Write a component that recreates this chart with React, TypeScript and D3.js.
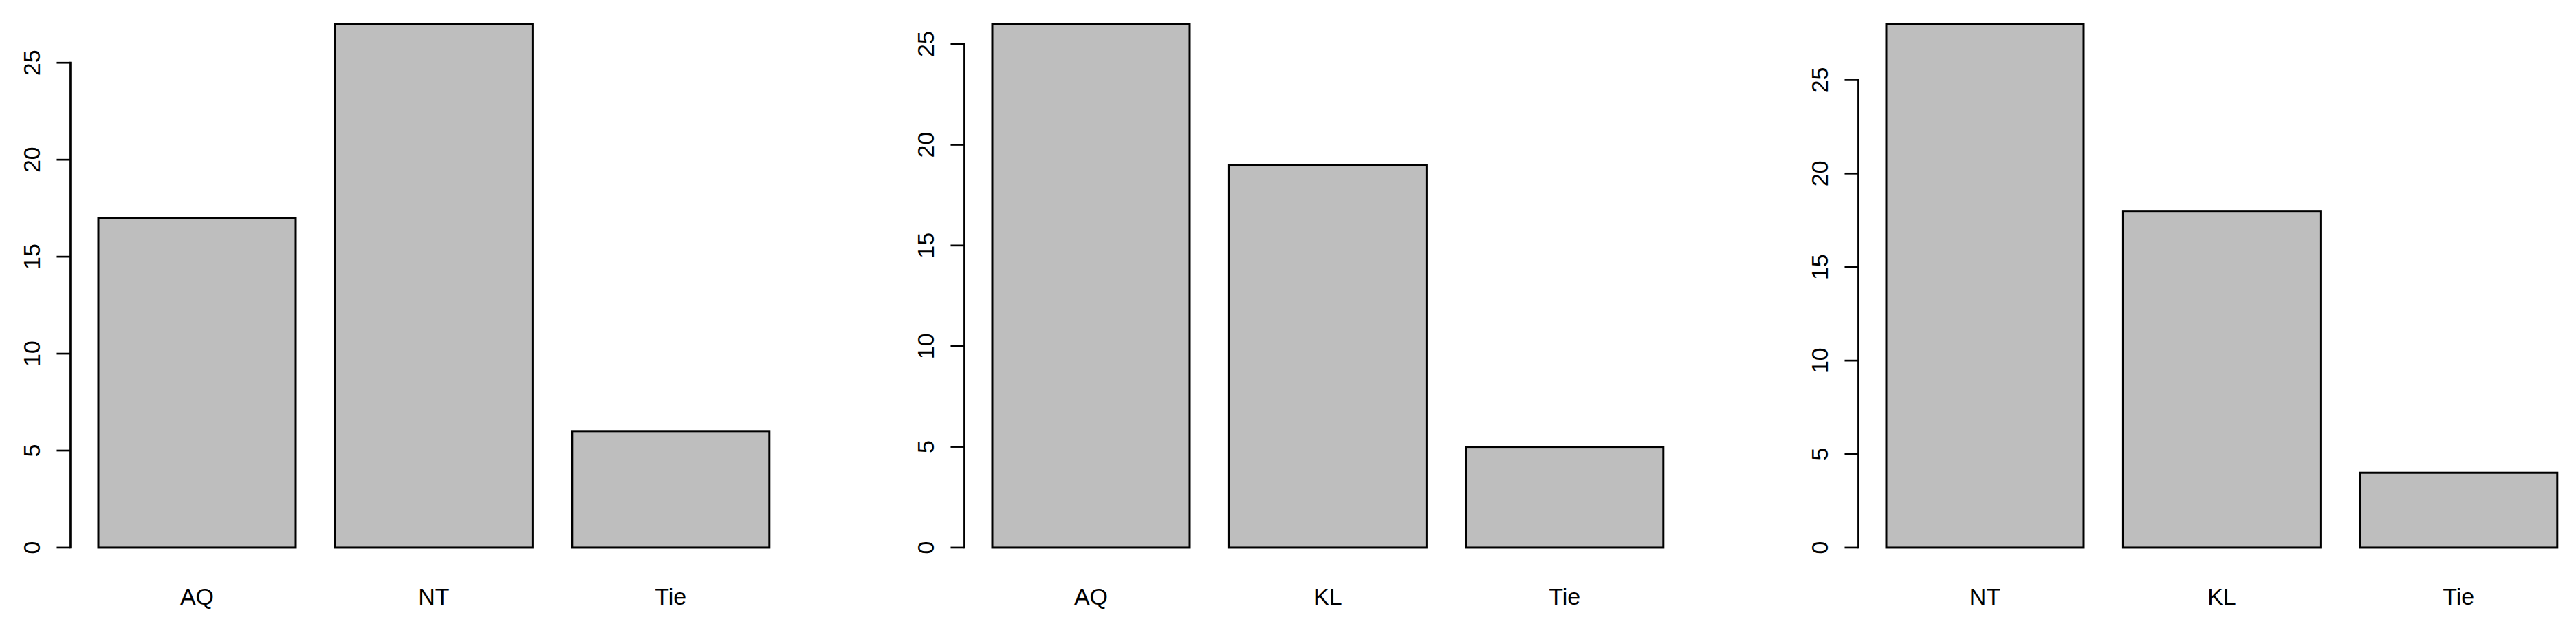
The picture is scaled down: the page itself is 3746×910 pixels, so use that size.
import React from "react"
import * as d3 from "d3"

// three bar charts, counts of wins per pairing
const categoriesA = ["AQ", "NT", "Tie"]
const valuesA = [17, 27, 6]

const categoriesB = ["AQ", "KL", "Tie"]
const valuesB = [26, 19, 5]

const categoriesC = ["NT", "KL", "Tie"]
const valuesC = [28, 18, 4]

const yTicks = [0, 5, 10, 15, 20, 25]

const WIDTH = 3746
const HEIGHT = 910
const PANEL_STEP = 1300
const BAR_UNIT = 287 // px for one bar width (R barplot: width 1, space 0.2)
const PLOT_TOP = 4.4
const PLOT_BOTTOM = 826.4
const FONT = "'Liberation Sans', Arial, Helvetica, sans-serif"

type PanelProps = {
	categories: string[]
	values: number[]
	offset: number
}

const BarPanel = ({ categories, values, offset }: PanelProps) => {
	// R style xlim: bars from 0.2 to 3.6, stretched by 4% each side
	const plotLeft = offset + 143 - 0.136 * BAR_UNIT
	const plotWidth = 3.672 * BAR_UNIT

	const x = d3
		.scaleBand<string>()
		.domain(categories)
		.range([plotLeft, plotLeft + plotWidth])
		.paddingInner(0.2 / 1.2)
		.paddingOuter(0.136 / 1.2)

	const max = d3.max(values) ?? 1
	const y = d3
		.scaleLinear()
		.domain([-0.04 * max, 1.04 * max])
		.range([PLOT_BOTTOM, PLOT_TOP])

	const axisX = plotLeft - 1.5

	return (
		<g>
			{/* bars */}
			{categories.map((c, i) => (
				<rect
					key={c}
					x={x(c)}
					y={y(values[i])}
					width={x.bandwidth()}
					height={y(0) - y(values[i])}
					fill="#bebebe"
					stroke="#000"
					strokeWidth={3}
				/>
			))}

			{/* y axis */}
			<line
				x1={axisX}
				x2={axisX}
				y1={y(yTicks[0])}
				y2={y(yTicks[yTicks.length - 1])}
				stroke="#000"
				strokeWidth={2.7}
				strokeLinecap="square"
			/>
			{yTicks.map(t => (
				<g key={t}>
					<line
						x1={axisX - 20}
						x2={axisX}
						y1={y(t)}
						y2={y(t)}
						stroke="#000"
						strokeWidth={2.7}
					/>
					<text
						transform={`translate(${axisX - 44},${y(t)}) rotate(-90)`}
						textAnchor="middle"
						fontFamily={FONT}
						fontSize={34}
						fill="#000"
					>
						{t}
					</text>
				</g>
			))}

			{/* category labels */}
			{categories.map(c => (
				<text
					key={c}
					x={(x(c) ?? 0) + x.bandwidth() / 2}
					y={879}
					textAnchor="middle"
					fontFamily={FONT}
					fontSize={34}
					fill="#000"
				>
					{c}
				</text>
			))}
		</g>
	)
}

const App = () => {
	const panels = [
		{ categories: categoriesA, values: valuesA },
		{ categories: categoriesB, values: valuesB },
		{ categories: categoriesC, values: valuesC },
	]

	return (
		<svg
			width={WIDTH}
			height={HEIGHT}
			style={{ position: "absolute", left: 0, top: 0, display: "block", background: "#fff" }}
		>
			<rect width={WIDTH} height={HEIGHT} fill="#fff" />
			{panels.map((p, i) => (
				<BarPanel
					key={i}
					categories={p.categories}
					values={p.values}
					offset={i * PANEL_STEP}
				/>
			))}
		</svg>
	)
}

export default App
